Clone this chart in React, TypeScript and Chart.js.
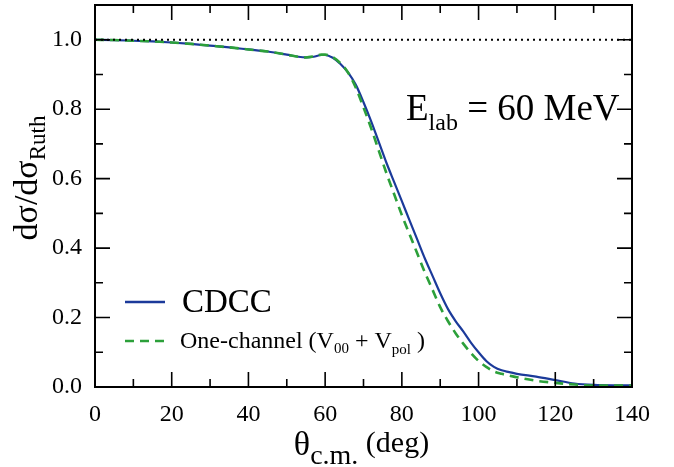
import React, { useEffect, useRef } from "react";
import { Chart, registerables } from "chart.js";

Chart.register(...registerables);

const angles = [0, 5, 10, 15, 20, 25, 30, 35, 40, 45, 50, 53, 55, 57, 59, 60, 62, 64, 66, 68, 70, 72, 74, 76, 78, 80, 82, 84, 86, 88, 90, 92, 94, 96, 98, 100, 102, 104, 106, 108, 110, 115, 120, 125, 130, 135, 140];
const cdcc = [1.0, 0.999, 0.997, 0.995, 0.992, 0.988, 0.983, 0.978, 0.972, 0.966, 0.957, 0.951, 0.949, 0.951, 0.956, 0.956, 0.948, 0.93, 0.905, 0.87, 0.82, 0.765, 0.705, 0.645, 0.59, 0.535, 0.48, 0.425, 0.37, 0.32, 0.27, 0.225, 0.19, 0.16, 0.128, 0.1, 0.075, 0.058, 0.048, 0.043, 0.038, 0.03, 0.02, 0.01, 0.006, 0.005, 0.005];
const oneChannel = [1.0, 0.999, 0.997, 0.995, 0.992, 0.988, 0.983, 0.978, 0.972, 0.966, 0.957, 0.951, 0.949, 0.952, 0.957, 0.957, 0.95, 0.932, 0.905, 0.862, 0.805, 0.745, 0.68, 0.615, 0.555, 0.495, 0.44, 0.385, 0.33, 0.28, 0.23, 0.19, 0.155, 0.125, 0.098, 0.075, 0.058, 0.045, 0.038, 0.033, 0.028, 0.018, 0.012, 0.007, 0.004, 0.004, 0.004];
const refAngles = [0, 140];
const refValues = [1.0, 1.0];

const X_MIN = 0, X_MAX = 140, X_STEP = 20, X_MINOR = 10;
const Y_MIN = 0, Y_MAX = 1.1, Y_STEP = 0.2, Y_MINOR = 0.1;

const BLUE = "#1b3a9a";
const GREEN = "#2ca03a";
const SERIF = "'Liberation Serif', 'DejaVu Serif', serif";

type Part = { t: string; size: number; dy?: number };

function drawRich(ctx: CanvasRenderingContext2D, parts: Part[], x: number, y: number) {
  let cx = x;
  for (const p of parts) {
    ctx.font = `${p.size}px ${SERIF}`;
    ctx.fillText(p.t, cx, y + (p.dy || 0));
    cx += ctx.measureText(p.t).width;
  }
  return cx;
}

function richWidth(ctx: CanvasRenderingContext2D, parts: Part[]) {
  let w = 0;
  for (const p of parts) {
    ctx.font = `${p.size}px ${SERIF}`;
    w += ctx.measureText(p.t).width;
  }
  return w;
}

const decorPlugin = {
  id: "decor",
  afterDraw(chart: any) {
    const ctx: CanvasRenderingContext2D = chart.ctx;
    const { left, right, top, bottom } = chart.chartArea;
    const xs = chart.scales.x;
    const ys = chart.scales.y;
    ctx.save();
    ctx.strokeStyle = "#000";
    ctx.fillStyle = "#000";
    ctx.lineWidth = 2;
    ctx.strokeRect(left, top, right - left, bottom - top);

    // inward ticks
    ctx.lineWidth = 1.6;
    for (let v = X_MIN + X_MINOR; v < X_MAX - 1e-6; v += X_MINOR) {
      const major = Math.abs(v / X_STEP - Math.round(v / X_STEP)) < 1e-6;
      const len = major ? 15 : 8;
      const px = xs.getPixelForValue(v);
      ctx.beginPath();
      ctx.moveTo(px, bottom);
      ctx.lineTo(px, bottom - len);
      ctx.moveTo(px, top);
      ctx.lineTo(px, top + len);
      ctx.stroke();
    }
    for (let v = Y_MIN + Y_MINOR; v < Y_MAX - 1e-6; v += Y_MINOR) {
      const major = Math.abs(v / Y_STEP - Math.round(v / Y_STEP)) < 1e-6;
      const len = major ? 15 : 8;
      const py = ys.getPixelForValue(v);
      ctx.beginPath();
      ctx.moveTo(left, py);
      ctx.lineTo(left + len, py);
      ctx.moveTo(right, py);
      ctx.lineTo(right - len, py);
      ctx.stroke();
    }

    // annotation
    ctx.textBaseline = "alphabetic";
    ctx.textAlign = "left";
    drawRich(ctx, [
      { t: "E", size: 37 },
      { t: "lab", size: 24, dy: 10 },
      { t: " = 60 MeV", size: 37 },
    ], 406, 120);

    // legend
    ctx.lineWidth = 2.5;
    ctx.strokeStyle = BLUE;
    ctx.beginPath();
    ctx.moveTo(125, 302);
    ctx.lineTo(165, 302);
    ctx.stroke();
    ctx.strokeStyle = GREEN;
    ctx.setLineDash([9, 6]);
    ctx.beginPath();
    ctx.moveTo(125, 341);
    ctx.lineTo(167, 341);
    ctx.stroke();
    ctx.setLineDash([]);
    ctx.fillStyle = "#000";
    drawRich(ctx, [{ t: "CDCC", size: 33 }], 182, 312);
    drawRich(ctx, [
      { t: "One-channel (V", size: 24 },
      { t: "00", size: 15, dy: 5 },
      { t: " + V", size: 24 },
      { t: "pol", size: 15, dy: 6 },
      { t: " )", size: 24 },
    ], 180, 348);

    // x title
    const xParts: Part[] = [
      { t: "θ", size: 34 },
      { t: "c.m.", size: 28, dy: 9 },
      { t: " (deg)", size: 30, dy: -3 },
    ];
    const xw = richWidth(ctx, xParts);
    drawRich(ctx, xParts, 290 + (143 - xw) / 2, 455);

    // y title
    const yParts: Part[] = [
      { t: "dσ/dσ", size: 34 },
      { t: "Ruth", size: 23, dy: 8 },
    ];
    const yw = richWidth(ctx, yParts);
    ctx.save();
    ctx.translate(37, 178);
    ctx.rotate(-Math.PI / 2);
    drawRich(ctx, yParts, -yw / 2, 0);
    ctx.restore();

    ctx.restore();
  },
};

export default function App() {
  const ref = useRef<HTMLCanvasElement | null>(null);
  useEffect(() => {
    if (!ref.current) return;
    const chart = new Chart(ref.current, {
      type: "line",
      data: {
        datasets: [
          {
            label: "ref",
            data: refAngles.map((x, i) => ({ x, y: refValues[i] })),
            borderColor: "#000",
            borderWidth: 2,
            borderDash: [2, 4],
            pointRadius: 0,
          },
          {
            label: "One-channel (V00 + Vpol)",
            data: angles.map((x, i) => ({ x, y: oneChannel[i] })),
            borderColor: GREEN,
            borderWidth: 2.6,
            borderDash: [9, 6],
            pointRadius: 0,
            cubicInterpolationMode: "monotone",
          },
          {
            label: "CDCC",
            data: angles.map((x, i) => ({ x, y: cdcc[i] })),
            borderColor: BLUE,
            borderWidth: 2.2,
            pointRadius: 0,
            cubicInterpolationMode: "monotone",
          },
        ],
      },
      options: {
        animation: false,
        responsive: true,
        maintainAspectRatio: false,
        layout: { padding: { left: 0, right: 42, top: 5, bottom: 0 } },
        plugins: { legend: { display: false }, tooltip: { enabled: false } },
        scales: {
          x: {
            type: "linear",
            min: X_MIN,
            max: X_MAX,
            grid: { display: false },
            border: { display: false },
            afterFit: (s: any) => { s.height = 80; s.paddingLeft = 0; s.paddingRight = 0; },
            ticks: {
              stepSize: X_STEP,
              color: "#000",
              padding: 5,
              maxRotation: 0,
              font: { family: SERIF, size: 24 },
            },
          },
          y: {
            type: "linear",
            min: Y_MIN,
            max: Y_MAX,
            grid: { display: false },
            border: { display: false },
            afterFit: (s: any) => { s.width = 95; s.paddingTop = 0; s.paddingBottom = 0; },
            ticks: {
              stepSize: Y_STEP,
              includeBounds: false,
              color: "#000",
              padding: 5,
              font: { family: SERIF, size: 24 },
              callback: (v: any) => {
                const n = Number(v);
                return Math.abs(n / Y_STEP - Math.round(n / Y_STEP)) < 1e-6 ? n.toFixed(1) : "";
              },
            },
          },
        },
      },
      plugins: [decorPlugin],
    } as any);
    return () => chart.destroy();
  }, []);
  return (
    <div style={{ position: "fixed", left: 0, top: 0, width: 674, height: 467, background: "#fff" }}>
      <canvas ref={ref} />
    </div>
  );
}
